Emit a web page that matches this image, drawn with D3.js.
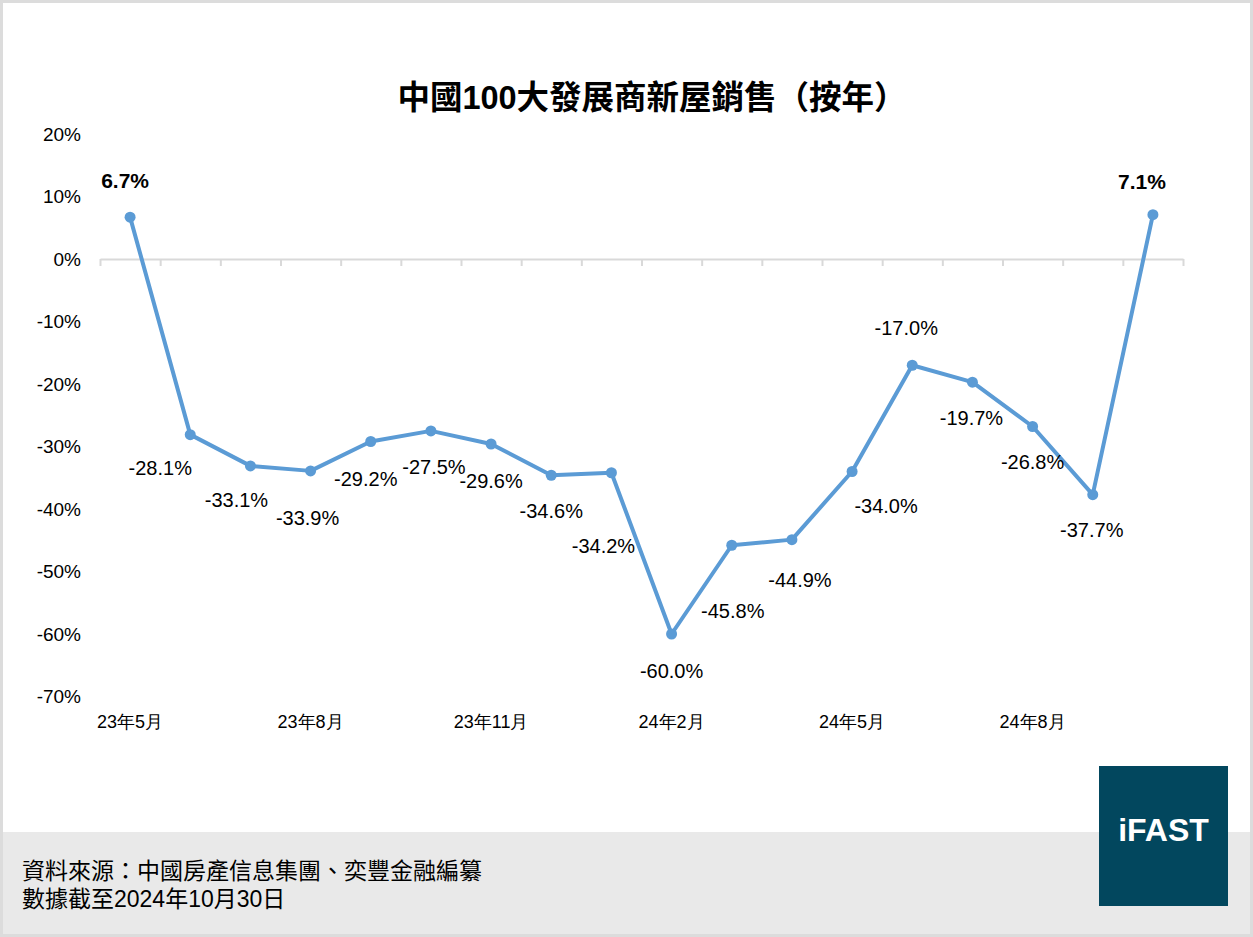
<!DOCTYPE html>
<html>
<head>
<meta charset="utf-8">
<script src="https://cdn.jsdelivr.net/npm/d3@7"></script>
<style>
  body { margin: 0; background: #fff; }
  svg { display: block; font-family: "Liberation Sans", Arial, "Noto Sans CJK TC", sans-serif; }
</style>
</head>
<body>
<div id="chart"></div>
<script>
// data
let months = ['23年5月', '23年6月', '23年7月', '23年8月', '23年9月', '23年10月', '23年11月', '23年12月', '24年1月',
    '24年2月', '24年3月', '24年4月', '24年5月', '24年6月', '24年7月', '24年8月', '24年9月', '24年10月']
let yoy = [6.7, -28.1, -33.1, -33.9, -29.2, -27.5, -29.6, -34.6, -34.2, -60.0, -45.8, -44.9, -34.0, -17.0, -19.7, -26.8, -37.7, 7.1]
let shownMonths = ['23年5月', '23年8月', '23年11月', '24年2月', '24年5月', '24年8月']
let yTicks = [20, 10, 0, -10, -20, -30, -40, -50, -60, -70]
let boldLabels = ['23年5月', '24年10月']

// label placement relative to each point (hand placed, like the original)
let labelOffset = [[-5, -36], [-30, 33], [-14, 34], [-3, 47], [-5, 37], [3, 36], [0, 37], [0, 36], [-8, 73],
    [0, 37], [1, 66], [8, 40], [34, 34], [-6, -37], [-1, 36], [0, 35], [-1, 35], [-11, -33]]

let svgWidth = 1253,
    svgHeight = 937

let svg = d3.select('#chart')
    .append('svg')
    .attr('width', svgWidth)
    .attr('height', svgHeight)

// frame + footer band
svg.append('rect')
    .attr('x', 0).attr('y', 0)
    .attr('width', svgWidth).attr('height', svgHeight)
    .attr('fill', '#fff')

svg.append('rect')
    .attr('x', 0).attr('y', 832)
    .attr('width', svgWidth).attr('height', svgHeight - 832)
    .attr('fill', '#e9e9e9')

svg.append('rect')
    .attr('x', 1.5).attr('y', 1.5)
    .attr('width', svgWidth - 3).attr('height', svgHeight - 3)
    .attr('fill', 'none')
    .attr('stroke', '#dcdcdc')
    .attr('stroke-width', 3)

let x = d3.scaleBand()
    .domain(months)
    .range([100, 1183])
    .padding(0)

let y = d3.scaleLinear()
    .domain([-70, 20])
    .range([696.5, 134])

let cx = d => x(d) + x.bandwidth() / 2

// title
svg.append('text')
    .attr('x', 652)
    .attr('y', 98)
    .attr('dy', '0.35em')
    .attr('text-anchor', 'middle')
    .attr('font-size', '32.5px')
    .attr('font-weight', 'bold')
    .text('中國100大發展商新屋銷售（按年）')

// y axis labels
let yAxis = svg.append('g')
    .attr('transform', 'translate(81,0)')
    .call(d3.axisLeft(y).tickValues(yTicks).tickFormat(d => d + '%').tickSize(0).tickPadding(0))
yAxis.select('.domain').remove()
yAxis.selectAll('text')
    .attr('font-size', '19px')
    .attr('fill', '#000')
    .attr('font-family', null)

// zero line with boundary ticks
let edges = d3.scaleLinear()
    .domain([0, months.length])
    .range([100, 1183])

let zeroAxis = svg.append('g')
    .attr('transform', `translate(0,${y(0)})`)
    .call(d3.axisBottom(edges).ticks(months.length).tickFormat('').tickSize(7).tickSizeOuter(0))
zeroAxis.select('.domain').attr('stroke', '#d9d9d9').attr('stroke-width', 2)
zeroAxis.selectAll('.tick line').attr('stroke', '#d9d9d9').attr('stroke-width', 2)

// month labels along the bottom
let xAxis = svg.append('g')
    .attr('transform', 'translate(0,715)')
    .call(d3.axisBottom(x).tickValues(shownMonths).tickSize(0).tickPadding(0))
xAxis.select('.domain').remove()
xAxis.selectAll('text')
    .attr('font-size', '18px')
    .attr('fill', '#000')
    .attr('font-family', null)

// the line
let data = months.map((m, i) => ({ month: m, value: yoy[i], off: labelOffset[i] }))

let line = d3.line()
    .x(d => cx(d.month))
    .y(d => y(d.value))

svg.append('path')
    .datum(data)
    .attr('fill', 'none')
    .attr('stroke', '#5b9bd5')
    .attr('stroke-width', 4)
    .attr('stroke-linejoin', 'round')
    .attr('d', line)

svg.selectAll('.dot')
    .data(data)
    .enter().append('circle')
    .attr('class', 'dot')
    .attr('cx', d => cx(d.month))
    .attr('cy', d => y(d.value))
    .attr('r', 5.5)
    .attr('fill', '#5b9bd5')

svg.selectAll('.val')
    .data(data)
    .enter().append('text')
    .attr('class', 'val')
    .attr('x', d => cx(d.month) + d.off[0])
    .attr('y', d => y(d.value) + d.off[1])
    .attr('dy', '0.35em')
    .attr('text-anchor', 'middle')
    .attr('font-size', d => boldLabels.includes(d.month) ? '21px' : '20px')
    .attr('font-weight', d => boldLabels.includes(d.month) ? 'bold' : 'normal')
    .text(d => d.value.toFixed(1) + '%')

// footer notes
let notes = ['資料來源：中國房產信息集團、奕豐金融編纂', '數據截至2024年10月30日']
svg.selectAll('.note')
    .data(notes)
    .enter().append('text')
    .attr('class', 'note')
    .attr('x', 22)
    .attr('y', (d, i) => 871 + i * 28)
    .attr('dy', '0.35em')
    .attr('font-size', '23px')
    .text(d => d)

// logo
let logo = svg.append('g')
    .attr('transform', 'translate(1099,766)')
logo.append('rect')
    .attr('width', 129)
    .attr('height', 140)
    .attr('fill', '#02475e')
logo.append('text')
    .attr('x', 64.5)
    .attr('y', 64)
    .attr('dy', '0.35em')
    .attr('text-anchor', 'middle')
    .attr('font-size', '32px')
    .attr('font-weight', 'bold')
    .attr('fill', '#fff')
    .text('iFAST')
</script>
</body>
</html>
